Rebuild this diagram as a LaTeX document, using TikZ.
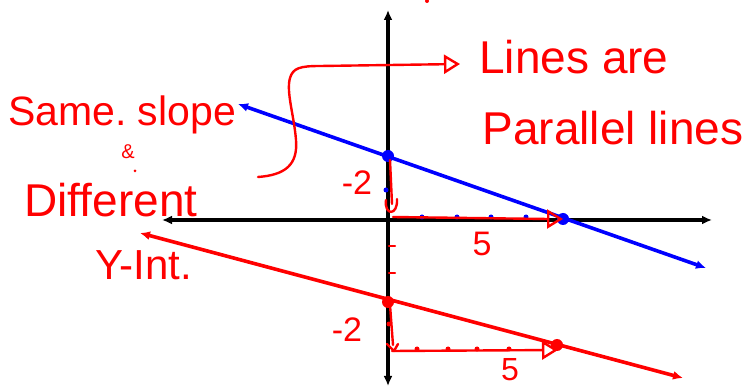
\documentclass[tikz,border=0pt]{standalone}
\usepackage{fontspec}
\setmainfont{Liberation Sans}
\usetikzlibrary{arrows.meta}
\begin{document}
\begin{tikzpicture}[x=1pt,y=-1pt,
  axis/.style={black, line width=3.6pt, {Latex[length=10pt,width=9pt]}-{Latex[length=10pt,width=9pt]}},
  bline/.style={blue, line width=3.6pt, {Latex[length=10pt,width=9pt]}-{Latex[length=10pt,width=9pt]}},
  rline/.style={red, line width=3.6pt, {Latex[length=10pt,width=9pt]}-{Latex[length=10pt,width=9pt]}},
  hand/.style={red, line width=2.4pt, line cap=round, line join=round},
  openarrow/.style={-{Triangle[open,length=16pt,width=19pt,line width=2.4pt]}},
  bigdot/.style={circle, inner sep=0pt, minimum size=12pt, fill=#1},
  smalldot/.style={circle, inner sep=0pt, minimum size=5pt, fill=#1},
  lbl/.style={text=red, inner sep=0pt, font=\fontsize{#1}{#1}\selectfont}
]
\useasboundingbox (0,0) rectangle (750,387);
\fill[white] (0,0) rectangle (750,387);

% axes
\coordinate (yt) at (388,10);
\coordinate (yb) at (388,386);
\coordinate (xl) at (162,220);
\coordinate (xr) at (712,220);
\draw[axis] (yb) -- (yt);
\draw[axis] (xl) -- (xr);

% blue line
\coordinate (b1) at (238,104);
\coordinate (b2) at (706,268);
\draw[bline] (b1) -- (b2);
\node[bigdot=blue] (bi) at (388,156) {};
\node[bigdot=blue] (bx) at (563,219) {};
\foreach \x [count=\i] in {422,457,491,526} \node[smalldot=blue] (bd\i) at (\x,217) {};
\node[smalldot=blue] (bd0) at (386,190) {};

% red line
\coordinate (r1) at (140,233);
\coordinate (r2) at (683,378);
\draw[rline] (r1) -- (r2);
\node[bigdot=red] (ri) at (388,302) {};
\node[bigdot=red] (rx) at (557,345) {};
\foreach \x [count=\i] in {417,448,477,509} \node[smalldot=red] (rd\i) at (\x,349) {};
\node[smalldot=red] (rd0) at (389,324) {};

% top rise/run triangle
\coordinate (t1) at (390,160);
\coordinate (t2) at (392,204);
\coordinate (t3) at (393,217);
\coordinate (t4) at (563,219);
\draw[hand] (t1) -- (t2);
\draw[hand] (386,200) .. controls (384,216) and (398,216) .. (397,199);
\draw[hand, openarrow] (t3) -- (548,219) -- (t4);

% bottom rise/run triangle
\coordinate (u1) at (390,305);
\coordinate (u2) at (393,345);
\coordinate (u3) at (392,351);
\coordinate (u4) at (558,350);
\draw[hand] (u1) -- (u2);
\draw[hand] (387,344) -- (394,351) -- (398,344);
\draw[hand, openarrow] (u3) -- (u4);

% ticks on y axis
\draw[hand] (389,246) -- (395,246);
\draw[hand] (389,273) -- (395,273);

% brace-like connector to "Lines are"
\coordinate (c0) at (258,177);
\coordinate (c1) at (460,64);
\draw[hand, openarrow] (c0) .. controls (285,175) and (298,165) .. (296,140)
   .. controls (294,115) and (286,92) .. (290,78)
   .. controls (293,68) and (300,66) .. (320,66) -- (c1);

% texts
\node[lbl=46] (lines) at (574,57) {Lines are};
\node[lbl=46] (par) at (613,128) {Parallel lines};
\node[lbl=41] (same) at (122,115) {Same.~slope};
\node[lbl=20] (amp) at (128,152) {\&};
\node[lbl=46] (diff) at (111,200) {Different};
\node[lbl=42] (yint) at (144,265) {Y-Int.};
\node[lbl=34] (m2a) at (357,183) {-2};
\node[lbl=34] (f5a) at (482,244) {5};
\node[lbl=34] (m2b) at (347,330) {-2};
\node[lbl=32] (f5b) at (510,370) {5};

% tiny marks
\node[smalldot=red, minimum size=3pt] (m1) at (135,171) {};
\node[smalldot=red, minimum size=4pt] (m2) at (427,1) {};
\end{tikzpicture}
\end{document}
